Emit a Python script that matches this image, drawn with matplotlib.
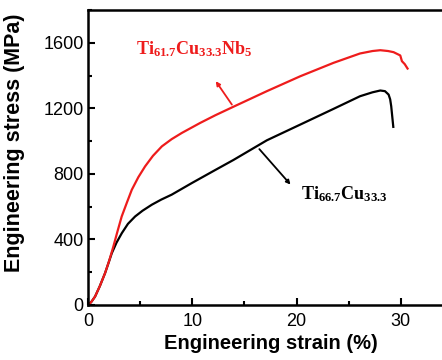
import matplotlib
matplotlib.use("Agg")
import matplotlib.pyplot as plt
from matplotlib.ticker import MultipleLocator

plt.rcParams["font.family"] = ["Liberation Sans", "DejaVu Sans"]
plt.rcParams["mathtext.fontset"] = "custom"
plt.rcParams["mathtext.bf"] = "Liberation Serif:bold"
plt.rcParams["mathtext.rm"] = "Liberation Serif"

# ── Data ───────────────────────────────────────────────────────────────────
nb_strain = [0, 0.3, 0.64, 1.1, 1.6, 2.0, 2.4, 2.8, 3.2, 3.7, 4.17, 4.8, 5.45,
             6.2, 7.06, 8.0, 8.98, 10.74, 12.2, 13.94, 17.15, 20.36, 23.56,
             26.1, 27.3, 28.05, 28.8, 29.33, 29.97, 30.13, 30.4, 30.67]
nb_stress = [0, 20, 51, 115, 194, 270, 357, 450, 540, 625, 703, 780, 846,
             910, 968, 1012, 1050, 1111, 1158, 1210, 1305, 1396, 1478,
             1535, 1550, 1555, 1550, 1543, 1523, 1488, 1470, 1443]

cu_strain = [0, 0.3, 0.64, 1.1, 1.6, 1.9, 2.25, 2.7, 3.21, 3.8, 4.49, 5.2,
             6.1, 7.0, 8.0, 9.94, 12.2, 13.94, 17.15, 20.36, 23.56, 26.1,
             27.3, 28.05, 28.5, 28.85, 29.0, 29.1, 29.2, 29.3]
cu_stress = [0, 20, 51, 115, 194, 250, 316, 380, 438, 495, 540, 575,
             612, 643, 673, 744, 824, 885, 1005, 1101, 1197, 1274,
             1298, 1309, 1305, 1284, 1255, 1213, 1150, 1087]

nb_label = r"$\mathbf{Ti_{61.7}Cu_{33.3}Nb_5}$"
cu_label = r"$\mathbf{Ti_{66.7}Cu_{33.3}}$"

red = "#ee1c1c"

# ── Plot ───────────────────────────────────────────────────────────────────
fig = plt.figure(figsize=(4.42, 3.6), dpi=100)
ax = fig.add_axes([0.2, 0.153, 0.824, 0.819])

ax.plot(cu_strain, cu_stress, color="black", linewidth=1.6)
ax.plot(nb_strain, nb_stress, color=red, linewidth=1.6)

ax.set_xlim(0, 35)
ax.set_ylim(0, 1800)
ax.xaxis.set_major_locator(MultipleLocator(10))
ax.xaxis.set_minor_locator(MultipleLocator(5))
ax.yaxis.set_major_locator(MultipleLocator(400))
ax.yaxis.set_minor_locator(MultipleLocator(200))
ax.tick_params(which="both", direction="in", labelsize=13, width=1.5)
ax.tick_params(which="major", length=5)
ax.tick_params(which="minor", length=3)
ax.tick_params(axis="x", pad=6)
for s in ax.spines.values():
    s.set_linewidth(1.8)

ax.set_xlabel("Engineering strain (%)", fontsize=14.5, fontweight="bold", labelpad=3)
ax.set_ylabel("Engineering stress (MPa)", fontsize=15.5, fontweight="bold")
ax.yaxis.set_label_coords(-0.174, 0.55)

ax.annotate("", xy=(12.09, 1380), xytext=(13.94, 1209),
            arrowprops=dict(arrowstyle="-|>", color=red, lw=1.3,
                            mutation_scale=6))
ax.text(10.2, 1560, nb_label, color=red, fontsize=13, ha="center", va="center")

ax.annotate("", xy=(19.6, 722), xytext=(16.25, 964),
            arrowprops=dict(arrowstyle="-|>", color="black", lw=1.3,
                            mutation_scale=6))
ax.text(20.4, 675, cu_label, color="black", fontsize=13, ha="left", va="center")

fig.savefig("out.png", dpi=100)
